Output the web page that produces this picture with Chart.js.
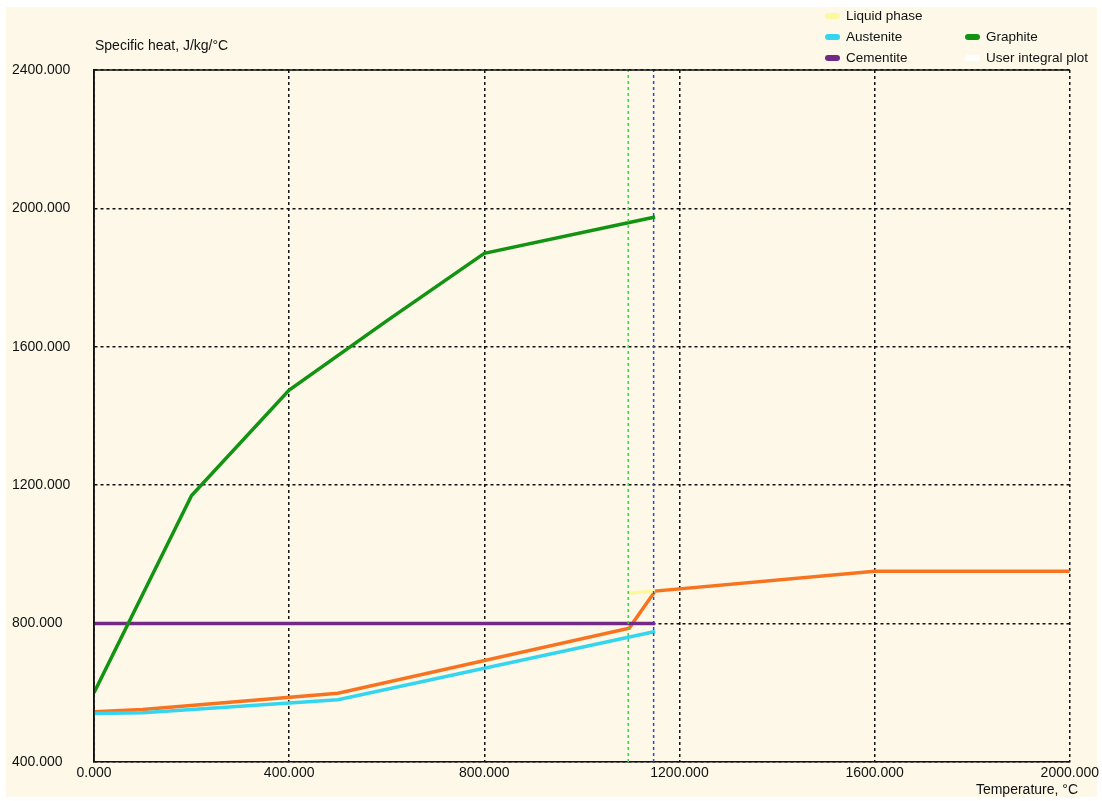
<!DOCTYPE html>
<html>
<head>
<meta charset="utf-8">
<script src="https://cdn.jsdelivr.net/npm/chart.js@4/dist/chart.umd.min.js"></script>
<style>
  html, body { margin: 0; padding: 0; background: #fff; }
  #wrap { width: 1102px; height: 801px; position: relative; }
</style>
</head>
<body>
<div id="wrap"><canvas id="cpChart" width="1102" height="801"></canvas></div>
<script>
// temperature (°C) / specific heat (J/kg/°C)
const graphiteT = [0, 200, 400, 600, 800, 1150];
const graphiteCp = [600, 1170, 1475, 1675, 1870, 1975];

const austeniteT = [0, 100, 500, 1150];
const austeniteCp = [540, 542, 580, 777];

const cementiteT = [0, 1150];
const cementiteCp = [800, 800];

const liquidT = [1097, 1150];
const liquidCp = [888, 894];

const mixT = [0, 100, 500, 1097, 1150, 1600, 2000];
const mixCp = [545, 552, 599, 787, 894, 951, 951];

// marker temperatures (dashed verticals)
const solidusT = 1095;
const eutecticT = 1147;

const xTicks = [0, 400, 800, 1200, 1600, 2000];
const yTicks = [400, 800, 1200, 1600, 2000, 2400];

const pts = (xs, ys) => xs.map((x, i) => ({ x, y: ys[i] }));
const vline = (x) => [{ x, y: yTicks[0] }, { x, y: yTicks[yTicks.length - 1] }];

const FONT = 'Liberation Sans, Arial, sans-serif';

const legendItems = [
  { label: 'Liquid phase', color: '#fcf8a0', col: 0, row: 0 },
  { label: 'Austenite', color: '#33d6ee', col: 0, row: 1 },
  { label: 'Graphite', color: '#129412', col: 1, row: 1 },
  { label: 'Cementite', color: '#722a86', col: 0, row: 2 },
  { label: 'User integral plot', color: '#ffffff', col: 1, row: 2 }
];

const frame = {
  id: 'frame',
  beforeDraw(chart) {
    const { ctx } = chart;
    ctx.save();
    ctx.fillStyle = '#fdf8e8';
    ctx.fillRect(6, 7, 1091, 790);
    ctx.restore();
  },
  afterDraw(chart) {
    const { ctx, chartArea: a } = chart;
    ctx.save();
    // solid top and left edges
    ctx.strokeStyle = '#111';
    ctx.lineWidth = 1.5;
    ctx.beginPath();
    ctx.moveTo(a.left, a.bottom);
    ctx.lineTo(a.left, a.top);
    ctx.lineTo(a.right, a.top);
    ctx.stroke();

    ctx.fillStyle = '#111';
    ctx.font = '14px ' + FONT;
    ctx.textBaseline = 'middle';
    ctx.textAlign = 'left';
    ctx.fillText('Specific heat, J/kg/°C', 95, 46);
    ctx.textAlign = 'right';
    ctx.fillText('Temperature, °C', 1078, 790);

    // legend
    ctx.font = '13.5px ' + FONT;
    ctx.textAlign = 'left';
    legendItems.forEach((it) => {
      const x = 825 + it.col * 140;
      const y = 16 + it.row * 21;
      ctx.fillStyle = it.color;
      ctx.beginPath();
      ctx.roundRect(x, y - 3, 15, 6, 3);
      ctx.fill();
      ctx.fillStyle = '#111';
      ctx.fillText(it.label, x + 21, y);
    });
    ctx.restore();
  }
};

const line = (label, data, color, extra) => Object.assign({
  label,
  data,
  borderColor: color,
  backgroundColor: color,
  borderWidth: 3.5,
  pointRadius: 0,
  tension: 0,
  fill: false
}, extra || {});

new Chart(document.getElementById('cpChart'), {
  type: 'line',
  data: {
    datasets: [
      line('Solidus', vline(solidusT), '#3fd43f', { borderWidth: 1.5, borderDash: [3, 3] }),
      line('Eutectic', vline(eutecticT), '#2a44ee', { borderWidth: 1.5, borderDash: [3, 3] }),
      line('Graphite', pts(graphiteT, graphiteCp), '#129412'),
      line('Cementite', pts(cementiteT, cementiteCp), '#722a86'),
      line('Austenite', pts(austeniteT, austeniteCp), '#33d6ee'),
      line('Liquid phase', pts(liquidT, liquidCp), '#fcf8a0'),
      line('Total', pts(mixT, mixCp), '#f8731f')
    ]
  },
  options: {
    responsive: false,
    animation: false,
    parsing: false,
    layout: { padding: { left: 12, right: 31, top: 70, bottom: 9 } },
    plugins: {
      legend: { display: false },
      tooltip: { enabled: false }
    },
    scales: {
      x: {
        type: 'linear',
        min: 0,
        max: 2000,
        afterBuildTicks: (s) => { s.ticks = xTicks.map((v) => ({ value: v })); },
        afterFit: (s) => { s.height = 30; },
        ticks: {
          padding: 3,
          color: '#111',
          font: { family: FONT, size: 14 },
          callback: (v) => v.toFixed(3),
          maxRotation: 0
        },
        grid: { color: '#111', lineWidth: 1.5, drawTicks: false },
        border: { color: '#111', width: 1.5, dash: [3, 3] }
      },
      y: {
        type: 'linear',
        min: 400,
        max: 2400,
        afterBuildTicks: (s) => { s.ticks = yTicks.map((v) => ({ value: v })); },
        afterFit: (s) => { s.width = 82; },
        ticks: {
          padding: 0,
          crossAlign: 'far',
          color: '#111',
          font: { family: FONT, size: 14 },
          callback: (v) => v.toFixed(3)
        },
        grid: { color: '#111', lineWidth: 1.5, drawTicks: false },
        border: { color: '#111', width: 1.5, dash: [3, 3] }
      }
    }
  },
  plugins: [frame]
});
</script>
</body>
</html>
